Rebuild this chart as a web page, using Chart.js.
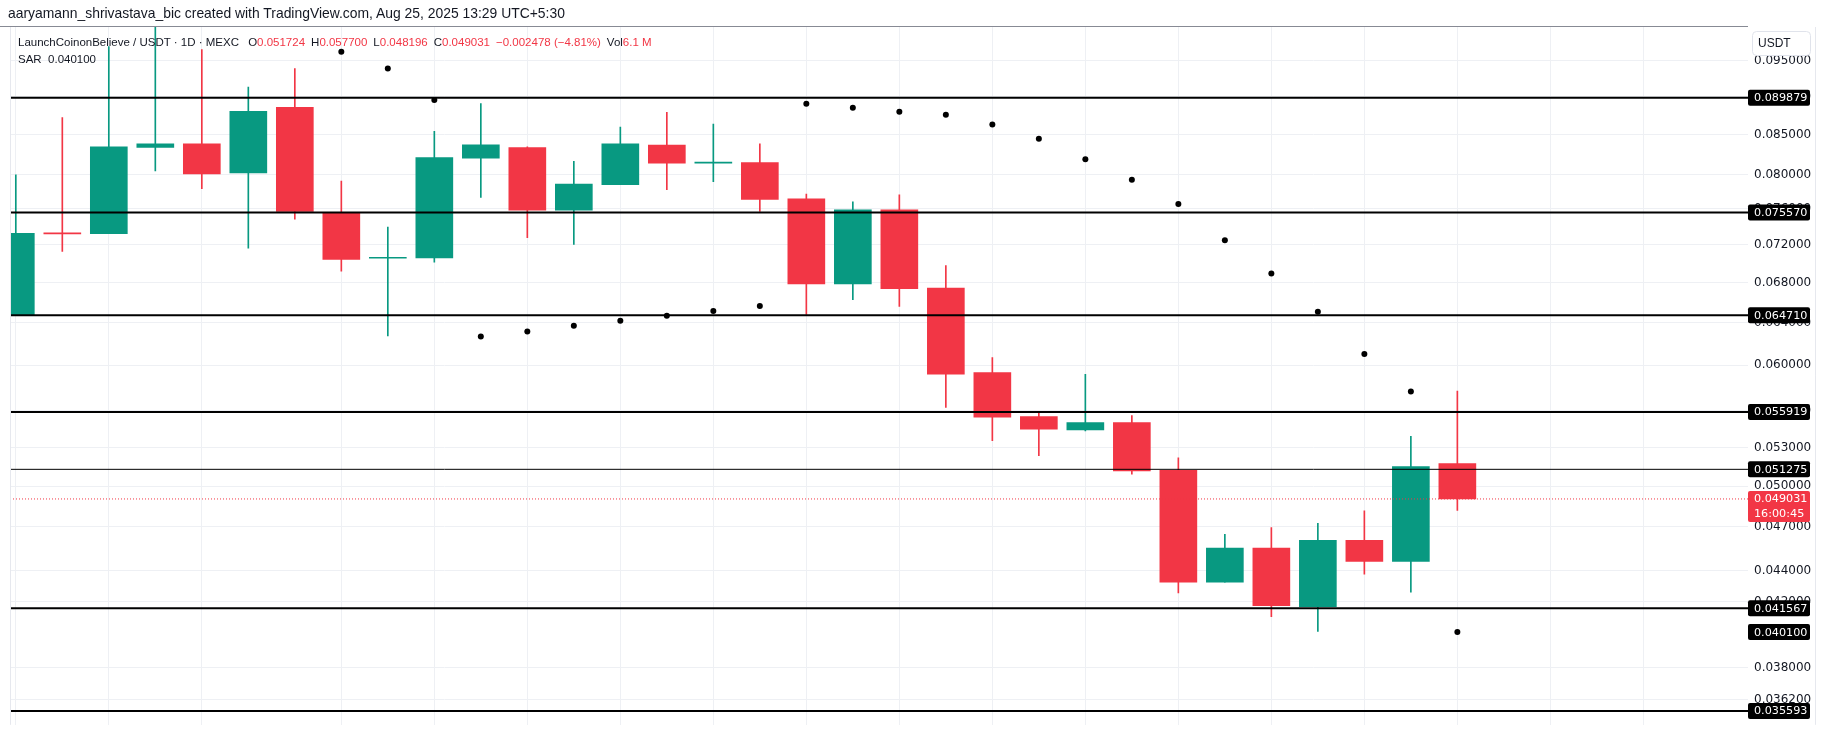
<!DOCTYPE html>
<html>
<head>
<meta charset="utf-8">
<script src="https://cdn.jsdelivr.net/npm/chart.js@4.4.1/dist/chart.umd.min.js"></script>
<style>
  html, body { margin: 0; padding: 0; background: #fff; }
  #wrap { position: relative; width: 1825px; height: 738px; overflow: hidden; }
  #chart { position: absolute; left: 0; top: 0; }
  .hdr { position: absolute; left: 8px; top: 5px; font: 13.9px 'Liberation Sans', sans-serif; color: #131722; white-space: nowrap; }
  .lgd { position: absolute; left: 18px; font: 11.5px 'Liberation Sans', sans-serif; color: #131722; white-space: nowrap; }
  .lgd span { margin-left: 6px; }
  .lgd b { font-weight: normal; color: #f23645; }
</style>
</head>
<body>
<div id="wrap">
  <canvas id="chart" width="1825" height="738"></canvas>
  <div class="hdr">aaryamann_shrivastava_bic created with TradingView.com, Aug 25, 2025 13:29 UTC+5:30</div>
  <div class="lgd" style="top:36px">LaunchCoinonBelieve / USDT · 1D · MEXC <span>O<b>0.051724</b></span><span>H<b>0.057700</b></span><span>L<b>0.048196</b></span><span>C<b>0.049031</b></span><span><b>−0.002478 (−4.81%)</b></span><span>Vol<b>6.1 M</b></span></div>
  <div class="lgd" style="top:53px">SAR&nbsp; 0.040100</div>
</div>
<script>
// -- DỮ LIỆU NẾN (1D, 25/07 -> 25/08/2025) --
const dates = ['Jul 25','Jul 26','Jul 27','Jul 28','Jul 29','Jul 30','Jul 31','Aug 1','Aug 2','Aug 3',
               'Aug 4','Aug 5','Aug 6','Aug 7','Aug 8','Aug 9','Aug 10','Aug 11','Aug 12','Aug 13',
               'Aug 14','Aug 15','Aug 16','Aug 17','Aug 18','Aug 19','Aug 20','Aug 21','Aug 22','Aug 23',
               'Aug 24','Aug 25'];
const opens  = [0.06473, 0.07325, 0.07318, 0.08337, 0.08383, 0.08022, 0.08856, 0.07557, 0.07052, 0.07056,
                0.08203, 0.08334, 0.07583, 0.07881, 0.08367, 0.08142, 0.08150, 0.07715, 0.06785, 0.07587,
                0.06742, 0.05935, 0.05552, 0.05441, 0.05503, 0.05120, 0.04324, 0.04552, 0.04167, 0.04606,
                0.04461, 0.051724];
const highs  = [0.07998, 0.08722, 0.09708, 0.10070, 0.09665, 0.09132, 0.09392, 0.07924, 0.07391, 0.08542,
                0.08908, 0.08346, 0.08163, 0.08597, 0.08790, 0.08635, 0.08383, 0.07769, 0.07681, 0.07761,
                0.06976, 0.06069, 0.05591, 0.05918, 0.05561, 0.05217, 0.04648, 0.04696, 0.04726, 0.04816,
                0.05390, 0.057700];
const lows   = [0.06468, 0.07125, 0.07318, 0.08046, 0.07834, 0.07161, 0.07482, 0.06917, 0.06273, 0.07010,
                0.07730, 0.07275, 0.07200, 0.07881, 0.07823, 0.07916, 0.07568, 0.06478, 0.06626, 0.06558,
                0.05629, 0.05354, 0.05235, 0.05433, 0.05090, 0.04254, 0.04324, 0.04105, 0.04015, 0.04376,
                0.04260, 0.048196];
const closes = [0.07322, 0.07317, 0.08346, 0.08383, 0.08010, 0.08803, 0.07568, 0.07041, 0.07059, 0.08211,
                0.08371, 0.07583, 0.07889, 0.08383, 0.08142, 0.08150, 0.07707, 0.06785, 0.07587, 0.06735,
                0.05920, 0.05548, 0.05449, 0.05503, 0.05115, 0.04324, 0.04552, 0.04173, 0.04606, 0.04461,
                0.05148, 0.049031];
// Parabolic SAR (null = ngoài khung nhìn)
const sar = [null, null, null, null, null, null, null, 0.09632, 0.09392, 0.08957,
             0.06267, 0.06314, 0.06370, 0.06417, 0.06465, 0.06513, 0.06562, 0.08904, 0.08852, 0.08799,
             0.08760, 0.08632, 0.08448, 0.08189, 0.07939, 0.07655, 0.07247, 0.06891, 0.06504, 0.06102,
             0.05768, 0.04010];
// các mức ngang vẽ tay
const levels = [0.089879, 0.075570, 0.064710, 0.055919, 0.051275, 0.041567, 0.035593];
const thinLevels = [0.051275];
const lastPrice = 0.049031;
const countdown = '16:00:45';
const sarLast = 0.040100;
// nhãn trục giá
const priceTicks = [0.095, 0.090, 0.085, 0.080, 0.076, 0.072, 0.068, 0.064, 0.060, 0.056,
                    0.053, 0.050, 0.047, 0.044, 0.042, 0.038, 0.0362];
// vạch lưới thời gian (chỉ số nến)
const timeTicks = [0, 2, 4, 7, 9, 11, 13, 15, 17, 19, 21, 23, 25, 27, 29, 31, 33, 35];

const UP = '#089981', DOWN = '#f23645';
const X_MIN = -0.125, X_MAX = 37.25;
const Y_MIN = 0.034863, Y_MAX = 0.1;

const idx = dates.map((d, i) => i);
const candleColor = idx.map(i => closes[i] >= opens[i] ? UP : DOWN);

const datasets = [];

// thân nến
datasets.push({
    type: 'bar',
    data: idx.map(i => ({ x: i, y: [opens[i], closes[i]] })),
    backgroundColor: candleColor,
    borderWidth: 0,
    barThickness: 37,
    minBarLength: 1,
    grouped: false,
    order: 3,
    clip: 0
});
// bóng nến
datasets.push({
    type: 'bar',
    data: idx.map(i => ({ x: i, y: [lows[i], highs[i]] })),
    backgroundColor: candleColor,
    borderWidth: 0,
    barThickness: 1,
    grouped: false,
    order: 4,
    clip: 0
});
// SAR
datasets.push({
    type: 'scatter',
    data: idx.filter(i => sar[i] !== null).map(i => ({ x: i, y: sar[i] })),
    backgroundColor: '#000',
    borderWidth: 0,
    pointRadius: 3,
    order: 2,
    clip: 0
});
// đường ngang
levels.forEach(lv => {
    datasets.push({
        type: 'line',
        data: [{ x: X_MIN, y: lv }, { x: X_MAX, y: lv }],
        borderColor: '#000',
        borderWidth: thinLevels.includes(lv) ? 1 : 2,
        pointRadius: 0,
        order: 0,
        clip: 0
    });
});
// giá hiện tại (chấm)
datasets.push({
    type: 'line',
    data: [{ x: X_MIN, y: lastPrice }, { x: X_MAX, y: lastPrice }],
    borderColor: DOWN,
    borderWidth: 1,
    borderDash: [1, 2],
    pointRadius: 0,
    order: 1,
    clip: 0
});

const overlay = {
    id: 'overlay',
    afterDraw(chart) {
        const ctx = chart.ctx;
        const y = chart.scales.y;
        const area = chart.chartArea;
        ctx.save();
        // đường kẻ trên cùng
        ctx.strokeStyle = '#878a94';
        ctx.lineWidth = 1;
        ctx.beginPath();
        ctx.moveTo(0, 26.5); ctx.lineTo(area.right, 26.5);
        ctx.stroke();
        // viền trái + viền trục giá
        ctx.strokeStyle = '#e6e8ee';
        ctx.beginPath();
        ctx.moveTo(area.left + 0.5, area.top); ctx.lineTo(area.left + 0.5, area.bottom);
        ctx.moveTo(1815.5, area.top); ctx.lineTo(1815.5, area.bottom);
        ctx.stroke();

        ctx.font = "11.2px 'DejaVu Sans'";
        ctx.textAlign = 'left';
        ctx.textBaseline = 'middle';
        const bx = area.right, bw = 62;
        const tag = (v, txt, bg) => {
            const py = y.getPixelForValue(v);
            ctx.fillStyle = bg;
            ctx.beginPath();
            ctx.roundRect(bx, py - 8, bw, 16, 2);
            ctx.fill();
            ctx.fillStyle = '#fff';
            ctx.fillText(txt, bx + 6, py + 0.5);
        };
        levels.forEach(lv => tag(lv, lv.toFixed(6), '#000'));
        tag(sarLast, sarLast.toFixed(6), '#000');

        // nhãn giá hiện tại + đếm ngược
        const lp = y.getPixelForValue(lastPrice);
        ctx.fillStyle = DOWN;
        ctx.beginPath();
        ctx.roundRect(bx, lp - 8, bw, 31, 2);
        ctx.fill();
        ctx.fillStyle = '#fff';
        ctx.fillText(lastPrice.toFixed(6), bx + 6, lp + 0.5);
        ctx.fillText(countdown, bx + 6, lp + 15.5);

        // ô đơn vị
        ctx.fillStyle = '#fff';
        ctx.strokeStyle = '#e0e3eb';
        ctx.beginPath();
        ctx.roundRect(1752.5, 31.5, 58, 24, 4);
        ctx.fill();
        ctx.stroke();
        ctx.fillStyle = '#131722';
        ctx.font = "12px 'Liberation Sans'";
        ctx.fillText('USDT', 1758, 44);
        ctx.restore();
    }
};

new Chart(document.getElementById('chart').getContext('2d'), {
    type: 'bar',
    data: { datasets },
    options: {
        responsive: false,
        animation: false,
        layout: { padding: { left: 10, top: 27, right: 0, bottom: 0 } },
        plugins: {
            legend: { display: false },
            tooltip: { enabled: false }
        },
        scales: {
            x: {
                type: 'linear',
                min: X_MIN,
                max: X_MAX,
                bounds: 'data',
                offset: false,
                afterBuildTicks: s => { s.ticks = timeTicks.map(v => ({ value: v })); },
                afterFit: s => { s.height = 0; },
                ticks: { display: false },
                grid: { color: '#eef0f4', drawTicks: false, offset: false },
                border: { display: false }
            },
            y: {
                type: 'logarithmic',
                position: 'right',
                min: Y_MIN,
                max: Y_MAX,
                bounds: 'data',
                afterBuildTicks: s => { s.ticks = priceTicks.map(v => ({ value: v })); },
                afterFit: s => { s.width = 77; },
                ticks: {
                    autoSkip: false,
                    padding: 6,
                    color: '#131722',
                    font: { family: 'DejaVu Sans', size: 12 },
                    callback: v => Number(v).toFixed(6)
                },
                grid: { color: '#eef0f4', drawTicks: false },
                border: { display: false }
            }
        }
    },
    plugins: [overlay]
});
</script>
</body>
</html>
